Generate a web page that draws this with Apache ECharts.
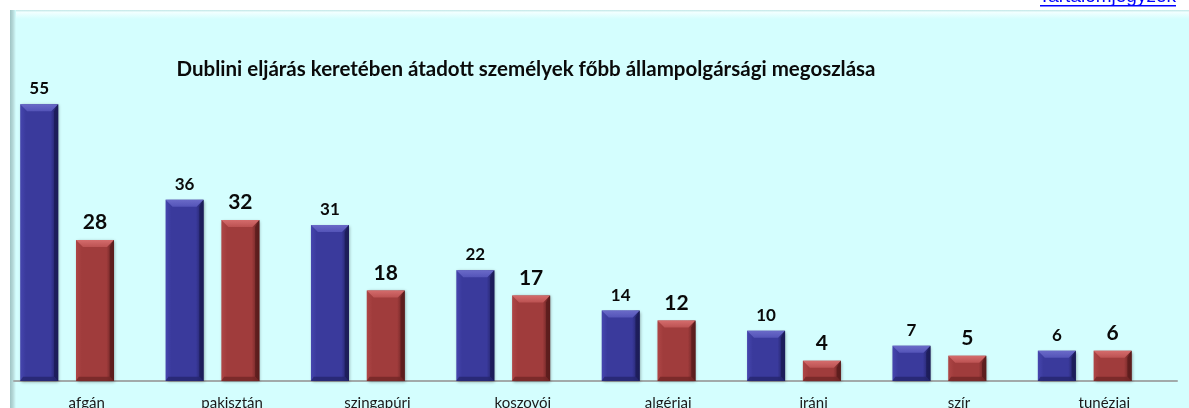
<!DOCTYPE html>
<html>
<head>
<meta charset="utf-8">
<script src="https://cdn.jsdelivr.net/npm/echarts@6/dist/echarts.min.js"></script>
<style>
  html, body { margin: 0; padding: 0; background: #ffffff; }
  #chart { width: 1189px; height: 408px; }
</style>
</head>
<body>
<div id="chart"></div>
<script>
// Transfers under the Dublin procedure by main nationality
const categories = ['afgán', 'pakisztán', 'szingapúri', 'koszovói', 'algériai', 'iráni', 'szír', 'tunéziai'];
const blueValues = [55, 36, 31, 22, 14, 10, 7, 6];
const redValues = [28, 32, 18, 17, 12, 4, 5, 6];

const FONT = 'Lato, "Open Sans", sans-serif';

const bluePalette = {
  left: '#4646ae', body: '#3a3a9c', right: '#1c1c58',
  top: '#6a6ac8', topInner: '#5454b8', bottom: '#26266e'
};
const redPalette = {
  left: '#ae4646', body: '#a03c3c', right: '#5a1c1c',
  top: '#d46c6c', topInner: '#bc5252', bottom: '#722626'
};

// Bevelled bar drawn from the category / value scales
function bevelBar(pal, shiftRatio, labelSize) {
  return function (params, api) {
    const idx = api.value(0);
    const val = api.value(1);
    const base = api.coord([idx, 0]);
    const top = api.coord([idx, val]);
    const band = api.size([1, 0])[0];
    const w = band * 0.2614;
    const cx = base[0] + band * shiftRatio;
    const x0 = cx - w / 2, x1 = cx + w / 2;
    const y0 = top[1], y1 = base[1];
    const h = y1 - y0;
    const b = Math.min(7, h / 2.6);
    const body = new echarts.graphic.LinearGradient(0, 0, 1, 0, [
      { offset: 0, color: pal.left },
      { offset: 0.15, color: pal.body },
      { offset: 0.8, color: pal.body },
      { offset: 1, color: pal.right }
    ]);
    return {
      type: 'group',
      children: [
        {
          type: 'rect',
          shape: { x: x0, y: y0, width: w, height: h },
          style: {
            fill: body,
            shadowBlur: 3, shadowOffsetX: 1, shadowOffsetY: 1,
            shadowColor: 'rgba(0,0,0,0.35)'
          }
        },
        {
          type: 'polygon',
          shape: { points: [[x0, y0], [x1, y0], [x1 - b, y0 + b], [x0 + b, y0 + b]] },
          style: {
            fill: new echarts.graphic.LinearGradient(0, 0, 0, 1, [
              { offset: 0, color: pal.top },
              { offset: 1, color: pal.topInner }
            ])
          }
        },
        {
          type: 'polygon',
          shape: { points: [[x1, y0], [x1, y1], [x1 - b * 0.6, y1 - b * 0.6], [x1 - b * 0.6, y0 + b]] },
          style: { fill: pal.right, opacity: 0.85 }
        },
        {
          type: 'polygon',
          shape: { points: [[x0, y1], [x1, y1], [x1 - b * 0.6, y1 - b * 0.6], [x0 + b * 0.4, y1 - b * 0.6]] },
          style: { fill: pal.bottom, opacity: 0.8 }
        },
        {
          type: 'text',
          style: {
            text: String(val),
            x: cx, y: y0 - 7,
            align: 'center', verticalAlign: 'bottom',
            font: 'bold ' + labelSize + 'px ' + FONT,
            fill: '#0a0a0a'
          }
        }
      ]
    };
  };
}

const chart = echarts.init(document.getElementById('chart'), null, { renderer: 'canvas' });

chart.setOption({
  animation: false,
  backgroundColor: '#ffffff',
  graphic: [
    {
      type: 'rect', z: -10, silent: true,
      shape: { x: 10, y: 10, width: 1200, height: 420 },
      style: { fill: '#d4fefe' }
    },
    {
      type: 'rect', z: -9, silent: true,
      shape: { x: 10, y: 10, width: 1200, height: 9 },
      style: {
        fill: new echarts.graphic.LinearGradient(0, 0, 0, 1, [
          { offset: 0, color: '#bfe6e6' },
          { offset: 0.25, color: '#f2ffff' },
          { offset: 1, color: '#d4fefe' }
        ])
      }
    },
    {
      type: 'rect', z: -8, silent: true,
      shape: { x: 10, y: 10, width: 6, height: 420 },
      style: {
        fill: new echarts.graphic.LinearGradient(0, 0, 1, 0, [
          { offset: 0, color: '#9fc4c4' },
          { offset: 0.5, color: '#b6dada' },
          { offset: 1, color: '#d4fefe' }
        ])
      }
    },
    {
      type: 'text', z: 10,
      style: {
        text: 'Tartalomjegyzék',
        x: 1176, y: -3.4,
        align: 'right', verticalAlign: 'middle',
        font: '19px "Liberation Sans", Arial, sans-serif',
        fill: '#0000ff'
      }
    },
    {
      type: 'rect', z: 11,
      shape: { x: 1040, y: 5, width: 136, height: 1.5 },
      style: { fill: '#0000ff' }
    }
  ],
  title: {
    text: 'Dublini eljárás keretében átadott személyek főbb állampolgársági megoszlása',
    left: 521, top: 54,
    textAlign: 'center',
    textStyle: { fontFamily: FONT, fontWeight: 'bold', fontSize: 20.5, color: '#0a0a0a' }
  },
  grid: { left: 14, right: 12, top: 79, bottom: 27, outerBoundsMode: 'none', containLabel: false },
  xAxis: {
    type: 'category',
    data: categories,
    axisLine: { lineStyle: { color: '#a2aaaa', width: 2 } },
    axisTick: { show: false },
    axisLabel: { margin: 15, fontFamily: FONT, fontSize: 15, color: '#1a1a1a' }
  },
  yAxis: {
    type: 'value', min: 0, max: 60,
    show: false,
    splitLine: { show: false }
  },
  series: [
    {
      name: 'A', type: 'custom',
      data: blueValues.map((v, i) => [i, v]),
      encode: { x: 0, y: 1 },
      renderItem: bevelBar(bluePalette, -0.3267, 17)
    },
    {
      name: 'B', type: 'custom',
      data: redValues.map((v, i) => [i, v]),
      encode: { x: 0, y: 1 },
      renderItem: bevelBar(redPalette, 0.0571, 21)
    }
  ]
});
</script>
</body>
</html>
